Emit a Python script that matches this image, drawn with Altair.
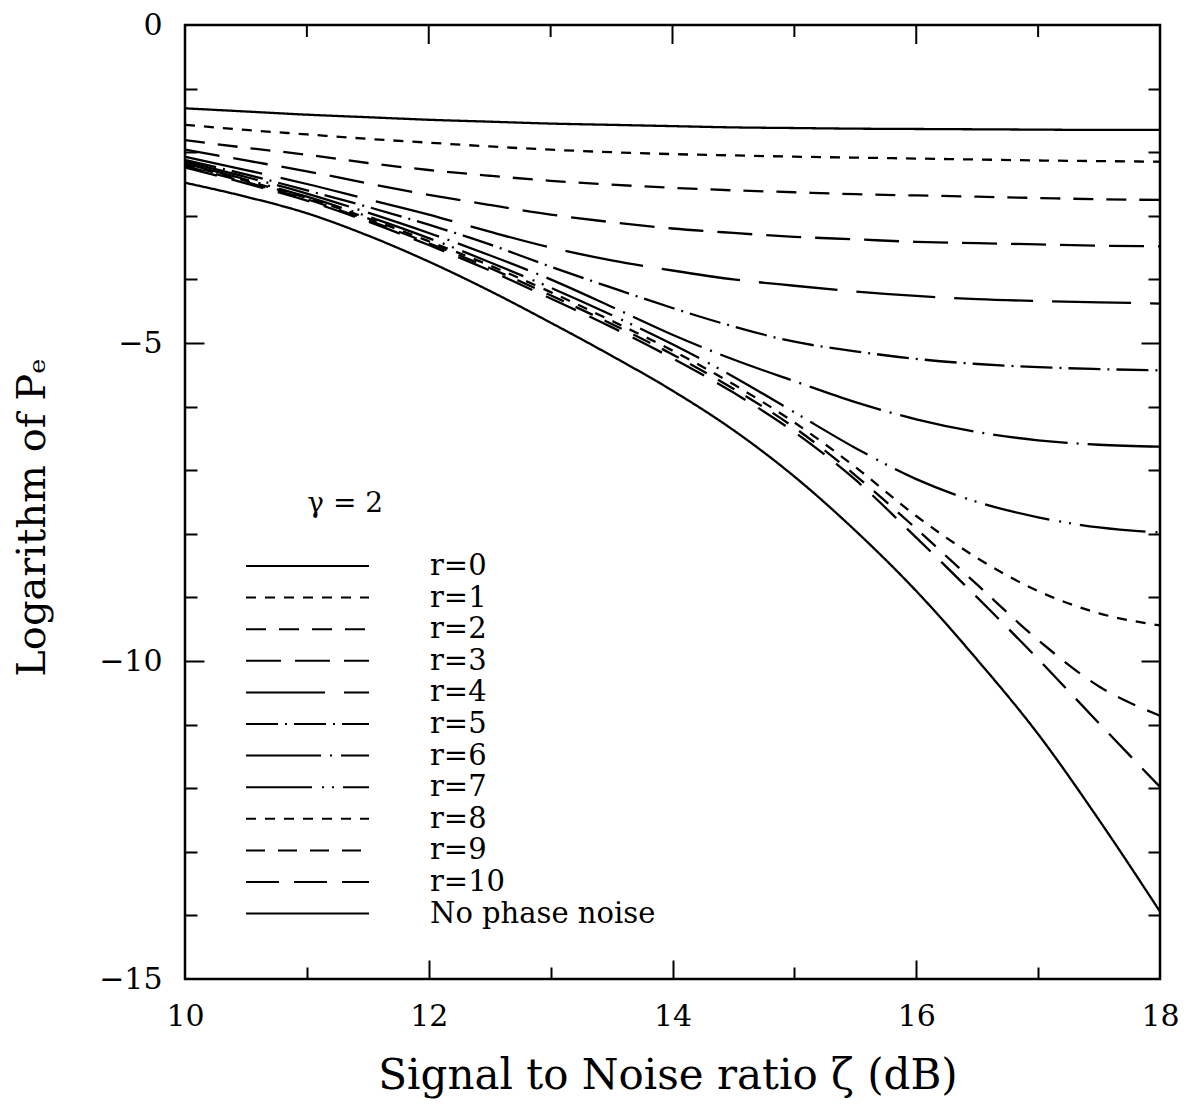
import altair as alt
import pandas as pd

# ---------------- data ----------------
snr = [10, 10.5, 11, 11.5, 12, 12.5, 13, 13.5, 14, 14.5, 15, 15.5, 16, 16.5, 17, 17.5, 18]

r0 = [-1.31, -1.36, -1.41, -1.45, -1.49, -1.52, -1.55, -1.57, -1.59, -1.61, -1.62, -1.63, -1.635, -1.64, -1.645, -1.65, -1.65]
r1 = [-1.57, -1.65, -1.72, -1.79, -1.85, -1.91, -1.96, -2.00, -2.03, -2.05, -2.07, -2.085, -2.10, -2.115, -2.13, -2.14, -2.15]
r2 = [-1.81, -1.93, -2.04, -2.17, -2.28, -2.37, -2.45, -2.51, -2.56, -2.60, -2.63, -2.66, -2.68, -2.70, -2.72, -2.74, -2.75]
r3 = [-1.96, -2.13, -2.30, -2.49, -2.67, -2.83, -2.98, -3.10, -3.20, -3.27, -3.33, -3.37, -3.41, -3.43, -3.45, -3.47, -3.48]
r4 = [-2.07, -2.28, -2.50, -2.74, -2.98, -3.25, -3.50, -3.70, -3.86, -4.00, -4.10, -4.19, -4.26, -4.31, -4.34, -4.36, -4.38]
r5 = [-2.12, -2.35, -2.60, -2.86, -3.14, -3.45, -3.80, -4.13, -4.45, -4.74, -4.98, -5.13, -5.25, -5.33, -5.38, -5.41, -5.43]
r6 = [-2.15, -2.39, -2.65, -2.95, -3.27, -3.62, -4.00, -4.43, -4.87, -5.26, -5.60, -5.93, -6.20, -6.40, -6.53, -6.60, -6.63]
r7 = [-2.18, -2.43, -2.70, -3.01, -3.35, -3.73, -4.13, -4.56, -5.02, -5.53, -6.09, -6.65, -7.14, -7.50, -7.74, -7.90, -7.98]
r8 = [-2.20, -2.45, -2.72, -3.04, -3.40, -3.78, -4.20, -4.65, -5.12, -5.65, -6.25, -6.95, -7.72, -8.38, -8.90, -9.25, -9.44]
r9 = [-2.22, -2.47, -2.74, -3.07, -3.43, -3.82, -4.25, -4.70, -5.18, -5.72, -6.33, -7.08, -7.92, -8.80, -9.67, -10.40, -10.86]
r10 = [-2.24, -2.49, -2.76, -3.09, -3.46, -3.86, -4.30, -4.75, -5.24, -5.78, -6.40, -7.15, -8.06, -9.00, -9.97, -10.98, -11.98]
no_noise = [-2.48, -2.70, -2.96, -3.31, -3.72, -4.18, -4.68, -5.20, -5.75, -6.37, -7.10, -7.95, -8.90, -9.98, -11.15, -12.50, -13.94]

series_names = ["r=0", "r=1", "r=2", "r=3", "r=4", "r=5", "r=6", "r=7", "r=8", "r=9", "r=10", "No phase noise"]
series_values = [r0, r1, r2, r3, r4, r5, r6, r7, r8, r9, r10, no_noise]

dash_patterns = [
    [1, 0], [10, 9], [20, 13], [35, 14], [79, 19], [32, 7, 2, 7],
    [75, 9, 2, 9], [66, 10, 2, 8, 2, 9], [10, 9], [19, 13], [33, 15], [1, 0],
]

x_major = [10, 12, 14, 16, 18]
x_inner_major = [12, 14, 16]
x_minor = [11, 13, 15, 17]
y_major = [0, -5, -10, -15]
y_inner_major = [-5, -10]
y_minor = [-1, -2, -3, -4, -6, -7, -8, -9, -11, -12, -13, -14]

rows = []
for name, vals in zip(series_names, series_values):
    for xv, yv in zip(snr, vals):
        rows.append({"snr": xv, "value": yv, "series": name})
df = pd.DataFrame(rows)

W, H = 975, 954
FONT = "DejaVu Serif"
MAJOR, MINOR = 19, 12

xscale = alt.Scale(domain=[10, 18], nice=False, zero=False)
yscale = alt.Scale(domain=[-15, 0], nice=False, zero=False)

base = alt.Chart(df)

lines = base.mark_line(color="black", strokeWidth=2.3, interpolate="monotone", clip=True).encode(
    x=alt.X("snr:Q", scale=xscale, axis=alt.Axis(
        orient="bottom", values=x_major, format="d", ticks=False, tickSize=0, domain=False, grid=False,
        labelFlush=False, labelFont=FONT, labelFontSize=30, labelColor="black", labelPadding=46,
        labelBaseline="alphabetic",
        title="Signal to Noise ratio ζ (dB)", titleFont=FONT, titleFontSize=42, titleFontWeight="normal",
        titleColor="black", titleBaseline="alphabetic", titleY=109, titleX=W / 2 - 5, titleAlign="center")),
    y=alt.Y("value:Q", scale=yscale, axis=alt.Axis(
        orient="left", values=y_major, format="d", ticks=False, tickSize=0, domain=False, grid=False,
        labelFlush=False, labelFont=FONT, labelFontSize=30, labelColor="black", labelPadding=23,
        labelBaseline="middle",
        title="Logarithm of Pₑ", titleFont=FONT, titleFontSize=40, titleFontWeight="normal",
        titleColor="black", titleAngle=270, titleAlign="center", titleBaseline="middle",
        titleX=-153, titleY=492)),
    strokeDash=alt.StrokeDash("series:N", scale=alt.Scale(domain=series_names, range=dash_patterns),
        legend=alt.Legend(
            title="\u200b" + "\u00a0" * 7 + "γ = 2", orient="none", legendX=60, legendY=465,
            symbolType="stroke", symbolSize=15129, symbolStrokeWidth=2, symbolStrokeColor="black",
            clipHeight=26, rowPadding=2.6, padding=0,
            labelFont=FONT, labelFontSize=29, labelColor="black", labelOffset=60, labelLimit=400,
            titleFont=FONT, titleFontSize=28, titleFontWeight="normal", titleColor="black",
            titlePadding=35, titleLimit=400)),
)


def side_ticks(xorient, xvals, yorient, yvals, size):
    """Inward ticks on the bottom edge (x) and one vertical edge (y)."""
    xaxis = None
    if xorient is not None:
        xaxis = alt.Axis(orient=xorient, offset=-H, values=xvals, labels=False, domain=False, grid=False,
                         ticks=True, tickSize=size, tickWidth=2, tickColor="black", title=None)
    return base.mark_point(opacity=0).encode(
        x=alt.X("snr:Q", scale=xscale, axis=xaxis),
        y=alt.Y("value:Q", scale=yscale, axis=alt.Axis(
            orient=yorient, offset=-W, values=yvals, labels=False, domain=False, grid=False,
            ticks=True, tickSize=size, tickWidth=2, tickColor="black", title=None)),
    )


t1 = side_ticks("top", x_inner_major, "right", y_inner_major, MAJOR)
t2 = side_ticks("top", x_minor, "right", y_minor, MINOR)
t3 = side_ticks(None, None, "left", y_inner_major, MAJOR)
t4 = side_ticks(None, None, "left", y_minor, MINOR)

# inward ticks on the top edge, positioned by the x scale
top_major = alt.Chart(pd.DataFrame({"tick": x_inner_major})).mark_rule(
    color="black", strokeWidth=2).encode(
    x=alt.X("tick:Q", scale=xscale, axis=None), y=alt.value(0), y2=alt.value(MAJOR))
top_minor = alt.Chart(pd.DataFrame({"tick": x_minor})).mark_rule(
    color="black", strokeWidth=2).encode(
    x=alt.X("tick:Q", scale=xscale, axis=None), y=alt.value(0), y2=alt.value(MINOR))

chart = alt.layer(lines, t1, t2, t3, t4, top_major, top_minor).properties(
    width=W, height=H,
    autosize=alt.AutoSizeParams(type="none"),
    padding={"left": 185, "top": 25, "right": 32, "bottom": 132},
    background="white",
).configure_view(stroke="black", strokeWidth=2.5)

chart.save("out.html", embed_options={"renderer": "svg", "actions": False})
